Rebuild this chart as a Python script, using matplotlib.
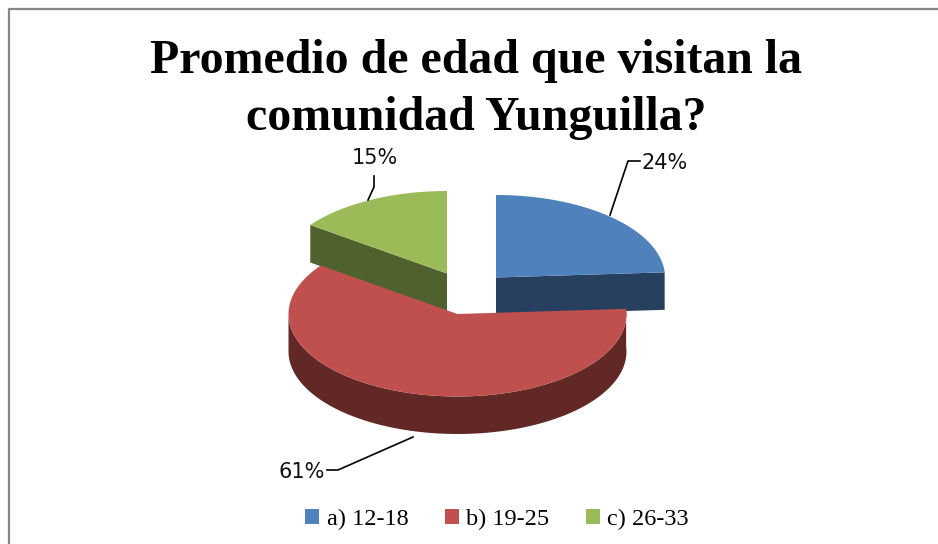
import numpy as np
import matplotlib
matplotlib.use("Agg")
import matplotlib.pyplot as plt
from matplotlib.patches import Polygon, Patch

# ==== DATI ====
labels = ["a) 12-18", "b) 19-25", "c) 26-33"]
values = [24, 61, 15]
pct_labels = ["24%", "61%", "15%"]
title = "Promedio de edad que visitan la\ncomunidad Yunguilla?"

top_colors = ["#4F81BD", "#C0504D", "#9BBB59"]
side_colors = ["#274060", "#612826", "#4F612C"]

# centri delle fette esplose, in pixel
centers = [(496, 277.5), (457.5, 314), (447, 273.5)]
RX, RY = 169, 82.5
DEPTH = 37.5


def arc(cx, cy, t0, t1, n=120):
    # angoli in gradi, da ore 12 in senso orario
    t = np.radians(np.linspace(t0, t1, n))
    return np.column_stack([cx + RX * np.sin(t), cy - RY * np.cos(t)])


fig = plt.figure(figsize=(9.38, 5.44), dpi=100)
ax = fig.add_axes([0, 0, 1, 1])
ax.set_xlim(0, 938)
ax.set_ylim(544, 0)
ax.axis("off")

# cornice: solo lato sinistro e superiore si vedono
ax.plot([8.5, 8.5, 938], [544, 8.5, 8.5], color="#868686", lw=1.6, zorder=1)

edges = np.cumsum([0] + values) * 3.6
down = np.array([0, DEPTH])

# verde e blu dietro, rosso davanti
for i in [2, 0, 1]:
    cx, cy = centers[i]
    t0, t1 = edges[i], edges[i + 1]
    c = np.array([cx, cy])
    top = arc(cx, cy, t0, t1)

    if i == 0:
        # faccia di taglio a destra
        wall = [c, top[-1], top[-1] + down, c + down]
        ax.add_patch(Polygon(wall, fc=side_colors[i], ec="none", zorder=2))
    if i == 2:
        # faccia di taglio a sinistra
        wall = [c, top[0], top[0] + down, c + down]
        ax.add_patch(Polygon(wall, fc=side_colors[i], ec="none", zorder=2))
    if i == 1:
        # parete curva visibile
        rim = arc(cx, cy, t0, 270)
        wall = np.vstack([rim, (rim + down)[::-1]])
        ax.add_patch(Polygon(wall, fc=side_colors[i], ec="none", zorder=3))

    surf = np.vstack([c, top])
    ax.add_patch(Polygon(surf, fc=top_colors[i], ec="none", zorder=4))

# etichette con linee guida
lab_font = dict(family="DejaVu Sans", fontsize=15, color="#111111", ha="center", va="center")
ax.text(665, 163, pct_labels[0], **lab_font)
ax.text(302, 472, pct_labels[1], **lab_font)
ax.text(374.5, 158, pct_labels[2], **lab_font)
ax.plot([610, 628, 640], [215, 161, 161], color="black", lw=1.2, zorder=5)
ax.plot([413, 338, 327], [437, 470, 470], color="black", lw=1.2, zorder=5)
ax.plot([368, 374, 374], [200, 187, 176], color="black", lw=1.2, zorder=5)

ax.text(476.5, 89.5, title, family="Liberation Serif", fontweight="bold", fontsize=34.5,
        ha="center", va="center", linespacing=1.38, color="black")

handles = [Patch(fc=c, ec="none") for c in top_colors]
ax.legend(handles, labels, ncol=3, loc="center", bbox_to_anchor=(497, 519.5),
          bbox_transform=ax.transData, frameon=False,
          prop={"family": "Liberation Serif", "size": 17.5},
          handlelength=0.58, handleheight=0.58, handletextpad=0.3,
          columnspacing=1.5, borderpad=0, borderaxespad=0)

fig.savefig("out.png", dpi=100)
